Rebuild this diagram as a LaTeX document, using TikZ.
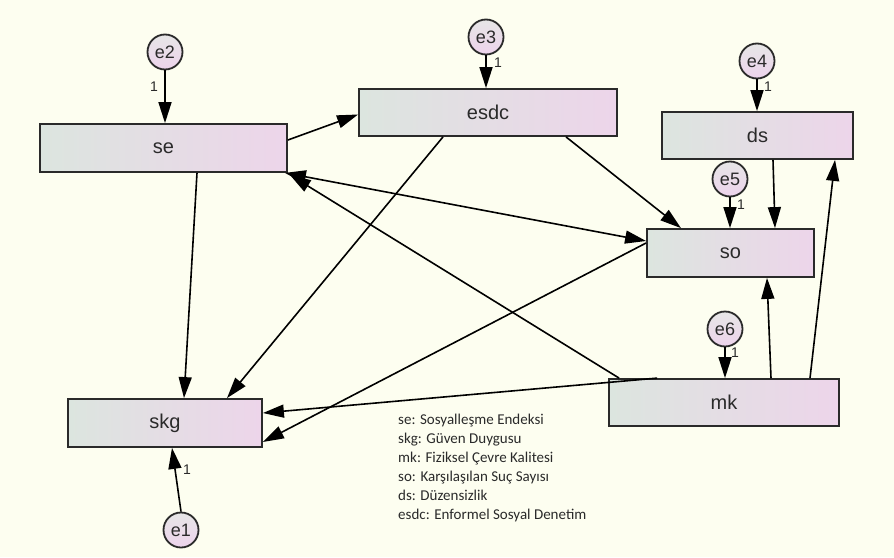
\documentclass[tikz,border=0pt]{standalone}
\usepackage{fontspec}
\setmainfont{Liberation Sans}
\newfontfamily\legendfont{Carlito}
\usetikzlibrary{arrows.meta,calc}
\definecolor{bgc}{HTML}{FDFEF0}
\definecolor{boxl}{HTML}{DCE5DF}
\definecolor{boxr}{HTML}{EDD5EA}
\definecolor{circt}{HTML}{E6E6E6}
\definecolor{circb}{HTML}{EDD3EC}
\definecolor{ink}{HTML}{2A2A2A}
\tikzset{
  obsbox/.style={draw=ink, line width=1.8pt, left color=boxl, right color=boxr,
    font=\fontsize{20}{22}\selectfont, text=ink, inner sep=0pt},
  errc/.style={circle, draw=ink, line width=1.8pt, top color=circt, bottom color=circb,
    minimum size=35pt, inner sep=0pt, font=\fontsize{18}{18}\selectfont, text=ink},
  path/.style={line width=1.6pt, draw=black, -{Triangle[length=21pt,width=13pt]}},
  dpath/.style={line width=1.6pt, draw=black, {Triangle[length=21pt,width=13pt]}-{Triangle[length=21pt,width=13pt]}},
  one/.style={font=\fontsize{14}{14}\selectfont, text=ink, inner sep=0pt},
  legend/.style={font=\legendfont\fontsize{15}{19}\selectfont, text=ink, align=left, anchor=north west, inner sep=0pt}
}
\begin{document}
\begin{tikzpicture}[x=1pt,y=-1pt]
\fill[bgc] (0,0) rectangle (894,557);
\useasboundingbox (0,0) rectangle (894,557);
% boxes
\node[obsbox, minimum width=247pt, minimum height=48pt] (se) at (163.5,148) {se};
\node[obsbox, minimum width=258pt, minimum height=47pt] (esdc) at (488,112.5) {esdc};
\node[obsbox, minimum width=191pt, minimum height=47pt] (ds) at (757.5,135.5) {ds};
\node[obsbox, minimum width=167pt, minimum height=48pt] (so) at (730.5,253) {so};
\node[obsbox, minimum width=194pt, minimum height=48pt] (skg) at (165,423) {skg};
\node[obsbox, minimum width=230pt, minimum height=47pt] (mk) at (724,402.5) {mk};
% error terms
\node[errc] (e2) at (165,52) {e2};
\node[errc] (e3) at (486,37) {e3};
\node[errc] (e4) at (757,61) {e4};
\node[errc] (e5) at (730,179) {e5};
\node[errc] (e6) at (725,329) {e6};
\node[errc] (e1) at (181,530) {e1};
% error paths
\draw[path] (e2.south) -- (e2.south |- se.north);
\draw[path] (e3.south) -- (e3.south |- esdc.north);
\draw[path] (e4.south) -- (e4.south |- ds.north);
\draw[path] (e5.south) -- (e5.south |- so.north);
\draw[path] (e6.south) -- (e6.south |- mk.north);
\draw[path] (e1.north) -- ([xshift=7pt]skg.south);
\node[one] (l2) at (154,87) {1};
\node[one] (l3) at (498,63) {1};
\node[one] (l4) at (768,87) {1};
\node[one] (l5) at (741,205) {1};
\node[one] (l6) at (735,353) {1};
\node[one] (l1) at (187,470) {1};
% structural paths
\draw[path] ([yshift=8pt]se.east) -- ([yshift=-2pt]esdc.west);
\draw[path] ([xshift=33.5pt]se.south) -- ([xshift=19pt]skg.north);
\draw[path] ([xshift=-45pt]esdc.south) -- ([xshift=62pt]skg.north);
\draw[path] ([xshift=78pt]esdc.south) -- ([xshift=-49.5pt]so.north);
\draw[dpath] ([xshift=-3pt]se.south east) -- ([yshift=12pt]so.west);
\draw[path] ([xshift=11pt]mk.north west) -- ([xshift=2pt,yshift=-2pt]se.south east);
\draw[path] ([yshift=10pt]so.west) -- ([yshift=-19pt]skg.east);
\draw[path] ([xshift=49pt]mk.north west) -- ([yshift=10pt]skg.east);
\draw[path] ([xshift=47pt]mk.north) -- ([xshift=36.5pt]so.south);
\draw[path] ([xshift=86pt]mk.north) -- ([xshift=77.5pt]ds.south);
\draw[path] ([xshift=15.5pt]ds.south) -- ([xshift=44.5pt]so.north);
% legend
\node[legend] (leg) at (398,414) {se: Sosyalleşme Endeksi\\skg: Güven Duygusu\\mk: Fiziksel Çevre Kalitesi\\so: Karşılaşılan Suç Sayısı\\ds: Düzensizlik\\esdc: Enformel Sosyal Denetim};
\end{tikzpicture}
\end{document}
